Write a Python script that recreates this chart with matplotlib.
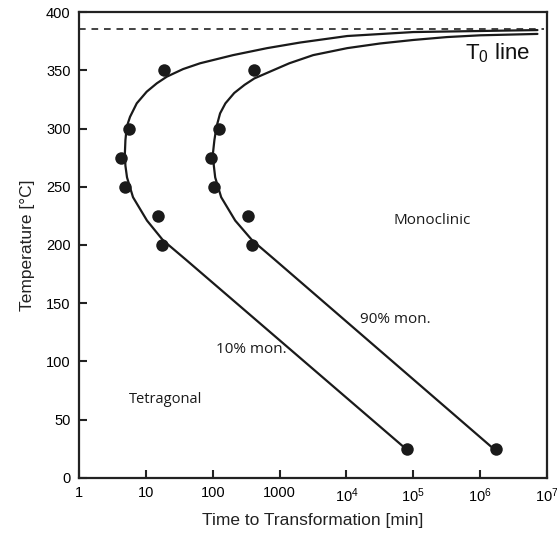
import matplotlib
matplotlib.use("Agg")
import matplotlib.pyplot as plt

plt.rcParams['font.family'] = ['Liberation Sans', 'DejaVu Sans']

# measured transformation times [min] at each temperature [C]
temps = [350, 300, 275, 250, 225, 200, 25]
t10 = [18.7, 5.6, 4.3, 4.9, 15.2, 17.5, 8.1e4]
t90 = [417, 125, 95, 105, 340, 390, 1.74e6]

# fitted C-curves (time [min], temperature [C])
curve10_t = [7.2e6, 1.0e6, 1.0e5, 1.03e4, 2030, 652, 202, 64.8, 36.0, 20.6, 14.6, 10.3,
             7.31, 5.8, 5.18, 4.95, 4.86, 4.95, 5.23, 6.43, 10.4, 18.1, 40.5, 8.13e4]
curve10_T = [384.5, 383.7, 382.8, 379.4, 373.8, 369, 363, 356, 351, 344.5, 338.8, 331.6,
             321.6, 310, 301.5, 290, 279, 268, 258, 241, 221, 204, 187, 24]
curve90_t = [7.2e6, 1.0e6, 3.2e5, 1.0e5, 3.2e4, 1.03e4, 3184, 1400, 802, 420, 300, 210,
             155, 129, 114, 106, 101, 104, 109, 134, 217, 390, 865, 1.75e6]
curve90_T = [381.2, 380, 378.5, 376, 373, 369, 363, 356, 350, 343, 337.5, 330.5,
             321.6, 313, 301.5, 290, 279, 268, 258, 241, 221, 204, 187, 23]

t0_temp = 385
xticks = [1, 10, 100, 1000, 1e4, 1e5, 1e6, 1e7]
xticklabels = ['1', '10', '100', '1000', r'$\mathregular{10^4}$', r'$\mathregular{10^5}$',
               r'$\mathregular{10^6}$', r'$\mathregular{10^7}$']
yticks = [0, 50, 100, 150, 200, 250, 300, 350, 400]

ink = '#1a1a1a'
fig = plt.figure(figsize=(5.57, 5.34), dpi=100)
ax = fig.add_axes([0.1418, 0.1049, 0.8402, 0.8726])

ax.plot(curve10_t, curve10_T, color=ink, lw=1.6, solid_capstyle='round', solid_joinstyle='round')
ax.plot(curve90_t, curve90_T, color=ink, lw=1.6, solid_capstyle='round', solid_joinstyle='round')
ax.plot(t10, temps, 'o', color=ink, ms=9, mec='none')
ax.plot(t90, temps, 'o', color=ink, ms=9, mec='none')
ax.plot([1, 9e6], [t0_temp, t0_temp], color='#222222', lw=1.2, ls=(0, (4, 3.5)))

ax.set_xscale('log')
ax.set_xlim(1, 1e7)
ax.set_ylim(0, 400)
ax.set_xticks(xticks)
ax.set_xticklabels(xticklabels)
ax.xaxis.set_minor_locator(matplotlib.ticker.NullLocator())
ax.set_yticks(yticks)
ax.tick_params(direction='in', length=6, width=1.5, labelsize=10.5, pad=6, color='#222222')
for s in ax.spines.values():
    s.set_linewidth(1.6)
    s.set_color('#222222')

ax.set_xlabel('Time to Transformation [min]', fontsize=12.5, labelpad=6, color='#222222')
ax.set_ylabel('Temperature [°C]', fontsize=12.5, labelpad=8, color='#222222')

note_font = ['Open Sans', 'DejaVu Sans']
ax.text(1.9e5, 221, 'Monoclinic', fontsize=11, ha='center', va='center', family=note_font, color=ink)
ax.text(5.4e4, 136, '90% mon.', fontsize=11, ha='center', va='center', family=note_font, color=ink)
ax.text(376, 110, '10% mon.', fontsize=11, ha='center', va='center', family=note_font, color=ink)
ax.text(19.4, 67, 'Tetragonal', fontsize=10.5, ha='center', va='center', family=note_font, color=ink)
ax.text(1.8e6, 365, r'$\mathregular{T_0}$ line', fontsize=16, ha='center', va='center', color='#111111')

fig.savefig('out.png', dpi=100)
